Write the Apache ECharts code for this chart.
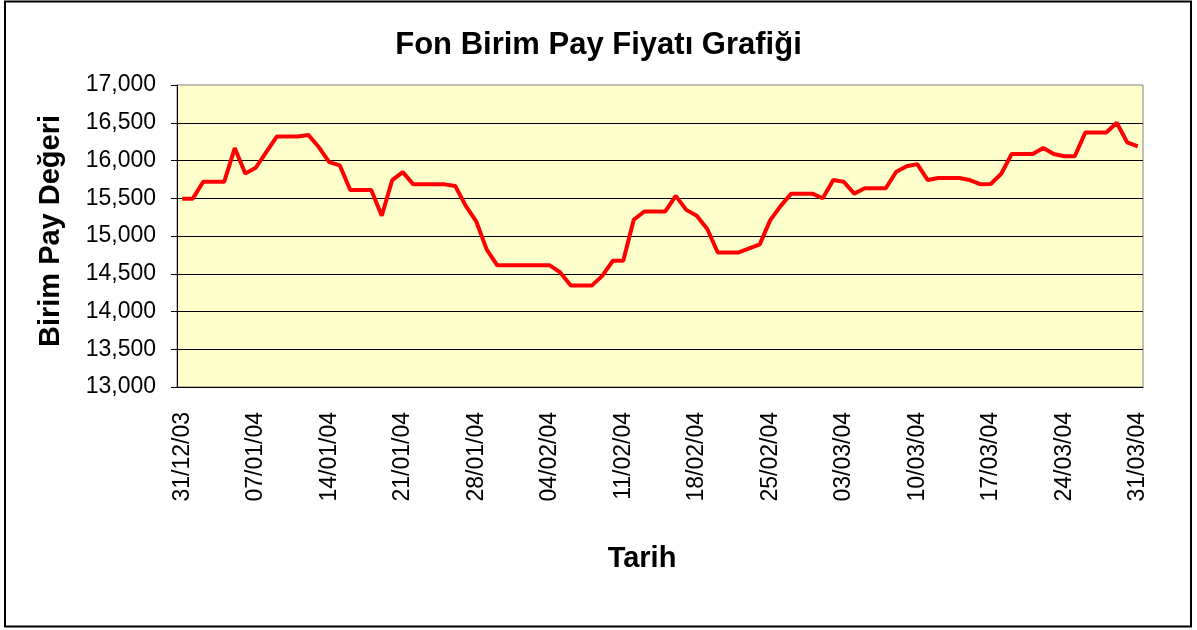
<!DOCTYPE html>
<html>
<head>
<meta charset="utf-8">
<script src="https://cdn.jsdelivr.net/npm/echarts@6/dist/echarts.min.js"></script>
<style>
  html, body { margin: 0; padding: 0; background: #fff; }
  #chart { width: 1197px; height: 630px; }
</style>
</head>
<body>
<div id="chart"></div>
<script>
  // gunluk fiyatlar, 31/12/03 - 31/03/04 (hafta sonu = cuma degeri)
  const startDate = new Date(2003, 11, 31)
  const prices = [
    15495, 15495, 15719, 15719, 15719, 16165, 15829, 15904, 16110, 16317,
    16317, 16317, 16339, 16178, 15978, 15935, 15610, 15610, 15610, 15268,
    15741, 15846, 15684, 15684, 15684, 15684, 15662, 15399, 15193, 14819,
    14611, 14611, 14611, 14611, 14611, 14611, 14518, 14343, 14343, 14343,
    14472, 14671, 14671, 15215, 15325, 15325, 15325, 15531, 15346, 15268,
    15092, 14782, 14782, 14782, 14835, 14889, 15211, 15399, 15561, 15561,
    15561, 15500, 15741, 15719, 15561, 15632, 15632, 15632, 15851, 15925,
    15952, 15741, 15768, 15768, 15768, 15741, 15687, 15689, 15825, 16087,
    16087, 16087, 16165, 16087, 16057, 16057, 16370, 16370, 16370, 16500,
    16239, 16187
  ]
  const yMin = 13000
  const yMax = 17000
  const yStep = 500

  const pad = n => (n < 10 ? '0' : '') + n
  const dates = prices.map((v, i) => {
    const d = new Date(startDate.getFullYear(), startDate.getMonth(), startDate.getDate() + i)
    return pad(d.getDate()) + '/' + pad(d.getMonth() + 1) + '/' + String(d.getFullYear()).slice(2)
  })

  const font = 'Arial, "Liberation Sans", sans-serif'
  const chart = echarts.init(document.getElementById('chart'))

  chart.setOption({
    animation: false,
    backgroundColor: '#fff',
    title: {
      text: 'Fon Birim Pay Fiyatı Grafiği',
      left: 'center',
      top: 25,
      textStyle: { fontFamily: font, fontSize: 31, fontWeight: 'bold', color: '#000' }
    },
    grid: {
      left: 177,
      top: 85,
      width: 966,
      height: 302,
      show: true,
      backgroundColor: '#FFFFCC',
      borderColor: '#808080',
      borderWidth: 1
    },
    xAxis: {
      type: 'category',
      data: dates,
      boundaryGap: true,
      name: 'Tarih',
      nameLocation: 'middle',
      nameGap: 157,
      nameTextStyle: {
        fontFamily: font, fontSize: 29, fontWeight: 'bold', color: '#000',
        padding: [0, 36, 0, 0]
      },
      axisLine: { lineStyle: { color: '#000', width: 1 } },
      axisTick: { interval: 6, length: 6, lineStyle: { color: '#000' } },
      axisLabel: {
        interval: 6,
        rotate: 90,
        margin: 25,
        fontFamily: font,
        fontSize: 23,
        color: '#000'
      },
      splitLine: { show: false }
    },
    yAxis: {
      type: 'value',
      min: yMin,
      max: yMax,
      interval: yStep,
      name: 'Birim Pay Değeri',
      nameLocation: 'middle',
      nameGap: 112,
      nameTextStyle: {
        fontFamily: font, fontSize: 29, fontWeight: 'bold', color: '#000',
        padding: [0, 0, 0, 10]
      },
      axisLine: { show: true, lineStyle: { color: '#000', width: 1 } },
      axisTick: { show: true, length: 6, lineStyle: { color: '#000' } },
      axisLabel: {
        margin: 21,
        fontFamily: font,
        fontSize: 23,
        color: '#000',
        formatter: v => v.toLocaleString('en-US')
      },
      splitLine: { show: true, showMaxLine: false, lineStyle: { color: '#000', width: 1 } }
    },
    series: [{
      type: 'line',
      data: prices,
      symbol: 'none',
      lineStyle: { color: '#FF0000', width: 4 },
      connectNulls: true
    }],
    graphic: [{
      type: 'rect',
      shape: { x: 5, y: 1.5, width: 1186, height: 625 },
      style: { fill: 'none', stroke: '#000', lineWidth: 2 },
      silent: true
    }]
  })
</script>
</body>
</html>
